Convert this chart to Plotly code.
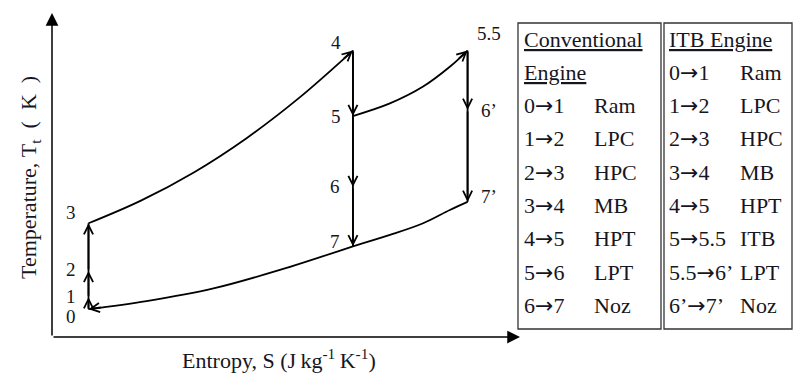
import plotly.graph_objects as go
import math

# ---------------- data ----------------
states = ["0", "1", "2", "3", "4", "5", "6", "7", "5.5", "6’", "7’"]
entropy = [0.78, 0.78, 0.78, 0.78, 6.43, 6.43, 6.43, 6.43, 8.88, 8.88, 8.88]
temperature = [0.86, 1.23, 2.04, 3.51, 8.84, 6.82, 4.63, 2.80, 8.84, 7.01, 4.17]

# intermediate points on curved processes
curve_3_4_S = [1.90, 3.03, 4.15, 5.28]
curve_3_4_T = [4.21, 5.08, 6.13, 7.38]
curve_5_55_S = [7.22, 7.93, 8.50]
curve_5_55_T = [7.21, 7.73, 8.34]
curve_7_0_S = [4.87, 3.45, 2.02]
curve_7_0_T = [2.07, 1.50, 1.11]
curve_7_7p_S = [7.22, 7.93, 8.50]
curve_7_7p_T = [3.15, 3.51, 3.92]

conv_steps = [("0", "1"), ("1", "2"), ("2", "3"), ("3", "4"), ("4", "5"), ("5", "6"), ("6", "7")]
conv_parts = ["Ram", "LPC", "HPC", "MB", "HPT", "LPT", "Noz"]
itb_steps = [("0", "1"), ("1", "2"), ("2", "3"), ("3", "4"), ("4", "5"), ("5", "5.5"),
             ("5.5", "6’"), ("6’", "7’")]
itb_parts = ["Ram", "LPC", "HPC", "MB", "HPT", "ITB", "LPT", "Noz"]

# ---------------- layout constants ----------------
W, H = 793, 374
ML, MR, MT, MB = 52, 273, 13, 37
XR = [0, 10]
YR = [0, 10]
PW, PH = W - ML - MR, H - MT - MB
SX = PW / (XR[1] - XR[0])
SY = PH / (YR[1] - YR[0])
FONT = "Liberation Serif"
TXT = "#161622"
LW = 1.8
ARROW = '<span style="font-family:DejaVu Sans">→</span>'


def px(xp):
    return (xp - ML) / PW


def py(yp):
    return (H - MB - yp) / PH


P = {s: (entropy[i], temperature[i]) for i, s in enumerate(states)}

fig = go.Figure()


def add_path(names_and_mids):
    xs, ys = [], []
    for item in names_and_mids:
        if isinstance(item, str):
            xs.append(P[item][0]); ys.append(P[item][1])
        else:
            xs.extend(item[0]); ys.extend(item[1])
    fig.add_trace(go.Scatter(x=xs, y=ys, mode="lines",
                             line=dict(color="black", width=LW, shape="spline", smoothing=1.0),
                             hoverinfo="skip", showlegend=False))


# vertical processes
add_path(["0", "1", "2", "3"])
add_path(["4", "5", "6", "7"])
add_path(["5.5", "6’", "7’"])
# curved processes
add_path(["3", (curve_3_4_S, curve_3_4_T), "4"])
add_path(["5", (curve_5_55_S, curve_5_55_T), "5.5"])
add_path(["7", (curve_7_0_S, curve_7_0_T), "0"])
add_path(["7", (curve_7_7p_S, curve_7_7p_T), "7’"])

ann = []

# arrowheads on straight processes
straight = [("0", "1"), ("1", "2"), ("2", "3"), ("4", "5"), ("5", "6"), ("6", "7"),
            ("5.5", "6’"), ("6’", "7’")]
for a, b in straight:
    ann.append(dict(x=P[b][0], y=P[b][1], ax=P[a][0], ay=P[a][1], xref="x", yref="y",
                    axref="x", ayref="y", text="", showarrow=True, arrowhead=5,
                    arrowwidth=LW, arrowsize=1.0, arrowcolor="black"))

# arrowheads at ends of curved processes
curved_ends = [((curve_3_4_S[-1], curve_3_4_T[-1]), "4"),
               ((curve_5_55_S[-1], curve_5_55_T[-1]), "5.5"),
               ((curve_7_0_S[-1], curve_7_0_T[-1]), "0")]
for (s0, t0), b in curved_ends:
    dxp = (P[b][0] - s0) * SX
    dyp = -(P[b][1] - t0) * SY
    n = math.hypot(dxp, dyp)
    L = 14
    ann.append(dict(x=P[b][0], y=P[b][1], ax=-dxp / n * L, ay=-dyp / n * L,
                    xref="x", yref="y", text="", showarrow=True, arrowhead=5,
                    arrowwidth=LW, arrowsize=1.0, arrowcolor="black"))

# state labels
label_shift = {"0": (-18, -7), "1": (-18, 1), "2": (-18, 1), "3": (-18, 11),
               "4": (-17, 8), "5": (-17, 0), "6": (-18, 0), "7": (-18, 5),
               "5.5": (21, 17), "6’": (21, -1), "7’": (21, 5)}
for s in states:
    dx, dy = label_shift[s]
    ann.append(dict(x=P[s][0], y=P[s][1], xref="x", yref="y", text=s, showarrow=False,
                    xanchor="center", yanchor="middle",
                    xshift=dx, yshift=dy, font=dict(family=FONT, size=19, color=TXT)))

# axes drawn as arrows (tail offsets in pixels)
ann.append(dict(x=1, y=0, ax=-PW, ay=0, xref="paper", yref="paper",
                text="", showarrow=True, arrowhead=2, arrowwidth=1.5, arrowsize=1.7,
                arrowcolor="black"))
ann.append(dict(x=0, y=1, ax=0, ay=PH, xref="paper", yref="paper",
                text="", showarrow=True, arrowhead=2, arrowwidth=1.5, arrowsize=1.7,
                arrowcolor="black"))

# axis titles
ann.append(dict(x=px(279), y=py(359), xref="paper", yref="paper", showarrow=False,
                xanchor="center", yanchor="middle",
                text="Entropy,\u00a0S\u00a0(J\u2009kg<sup>-1</sup>\u2009K<sup>-1</sup>)",
                font=dict(family=FONT, size=22, color=TXT)))
ann.append(dict(x=px(30), y=py(178), xref="paper", yref="paper", showarrow=False,
                xanchor="center", yanchor="middle",
                text="Temperature,\u00a0T<sub>t</sub>\u00a0\u00a0(\u2002K\u2002)", textangle=-90,
                font=dict(family=FONT, size=22, color=TXT)))

# table text
ROW0, DROW = 39, 33.3
tf = dict(family=FONT, size=22, color=TXT)
U = '<span style="text-decoration:underline">{}</span>'


def cell(xp, yp, text):
    ann.append(dict(x=px(xp), y=py(yp), xref="paper", yref="paper", xanchor="left",
                    yanchor="middle", showarrow=False, text=text, font=tf))


cell(522, ROW0, U.format("Conventional"))
cell(522, ROW0 + DROW, U.format("Engine"))
for i, ((a, b), pt) in enumerate(zip(conv_steps, conv_parts)):
    yy = ROW0 + (i + 2) * DROW
    cell(522, yy, a + ARROW + b)
    cell(592, yy, pt)
cell(667, ROW0, U.format("ITB Engine"))
for i, ((a, b), pt) in enumerate(zip(itb_steps, itb_parts)):
    yy = ROW0 + (i + 1) * DROW
    cell(667, yy, a + ARROW + b)
    cell(738, yy, pt)

shapes = [
    dict(type="rect", xref="paper", yref="paper", x0=px(518), x1=px(661), y0=py(329), y1=py(23),
         line=dict(color="#333333", width=1.3)),
    dict(type="rect", xref="paper", yref="paper", x0=px(664), x1=px(792), y0=py(329), y1=py(23),
         line=dict(color="#333333", width=1.3)),
]

fig.update_layout(
    width=W, height=H,
    margin=dict(l=ML, r=MR, t=MT, b=MB),
    paper_bgcolor="white", plot_bgcolor="white",
    xaxis=dict(range=XR, visible=False, fixedrange=True),
    yaxis=dict(range=YR, visible=False, fixedrange=True),
    annotations=ann, shapes=shapes, showlegend=False,
)

fig.write_html("out.html", config={"displayModeBar": False})
